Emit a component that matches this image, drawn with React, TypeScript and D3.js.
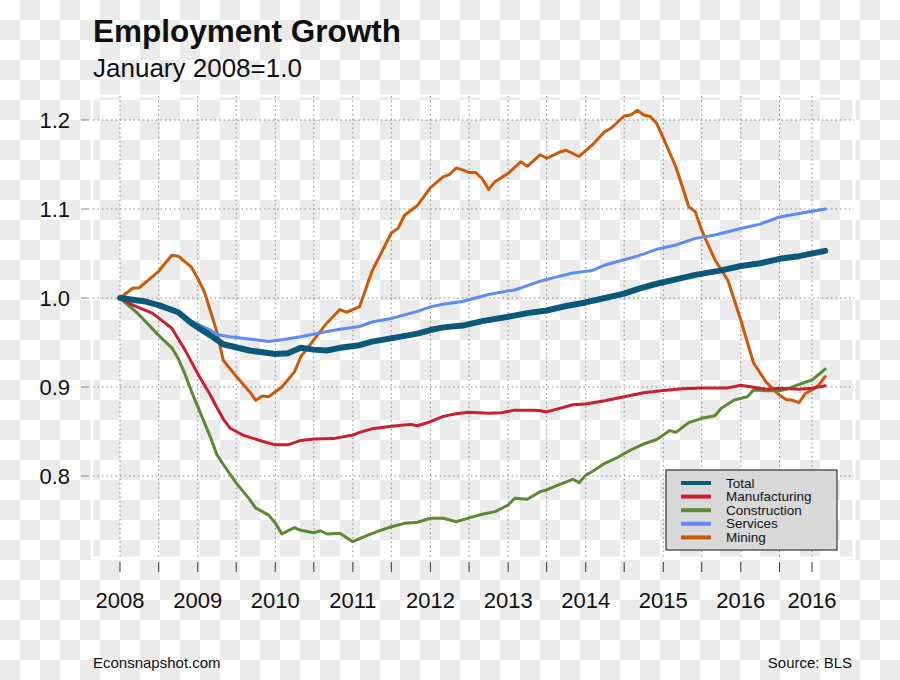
import React from "react";
import * as d3 from "d3";

// ---- Data (months as YYYY-MM, index Jan 2008 = 1.0) ----
const totalData: [string, number][] = [
  ["2008-01", 1.0], ["2008-05", 0.996], ["2008-07", 0.992], ["2008-10", 0.984], ["2008-12", 0.972],
  ["2009-03", 0.958], ["2009-05", 0.948], ["2009-09", 0.941], ["2010-01", 0.937], ["2010-03", 0.938],
  ["2010-05", 0.944], ["2010-07", 0.942], ["2010-09", 0.941], ["2010-11", 0.944], ["2011-02", 0.947],
  ["2011-04", 0.951], ["2011-08", 0.956], ["2011-11", 0.96], ["2012-01", 0.964], ["2012-03", 0.967],
  ["2012-06", 0.969], ["2012-09", 0.974], ["2013-01", 0.979], ["2013-04", 0.983], ["2013-07", 0.986],
  ["2013-10", 0.991], ["2014-01", 0.995], ["2014-04", 1.0], ["2014-07", 1.005], ["2014-09", 1.01],
  ["2014-12", 1.016], ["2015-03", 1.021], ["2015-06", 1.026], ["2015-10", 1.031], ["2016-01", 1.036],
  ["2016-04", 1.039], ["2016-07", 1.044], ["2016-10", 1.047], ["2017-02", 1.053],
];

const manufacturingData: [string, number][] = [
  ["2008-01", 1.0], ["2008-03", 0.992], ["2008-06", 0.983], ["2008-09", 0.966], ["2008-11", 0.942],
  ["2009-01", 0.915], ["2009-03", 0.891], ["2009-04", 0.877], ["2009-05", 0.864], ["2009-06", 0.854],
  ["2009-08", 0.846], ["2009-11", 0.839], ["2010-01", 0.835], ["2010-03", 0.835], ["2010-05", 0.84],
  ["2010-07", 0.8416], ["2010-10", 0.842], ["2011-01", 0.846], ["2011-02", 0.849], ["2011-04", 0.853],
  ["2011-07", 0.856], ["2011-10", 0.858], ["2011-11", 0.8565], ["2012-01", 0.861], ["2012-03", 0.867],
  ["2012-05", 0.87], ["2012-07", 0.8716], ["2012-10", 0.8705], ["2012-12", 0.871], ["2013-02", 0.874],
  ["2013-05", 0.874], ["2013-06", 0.8734], ["2013-07", 0.872], ["2013-09", 0.876], ["2013-11", 0.88],
  ["2014-01", 0.881], ["2014-04", 0.8846], ["2014-07", 0.889], ["2014-10", 0.8936], ["2015-01", 0.896],
  ["2015-04", 0.898], ["2015-07", 0.899], ["2015-11", 0.899], ["2016-01", 0.902], ["2016-03", 0.8997],
  ["2016-05", 0.8974], ["2016-07", 0.8985], ["2016-10", 0.8974], ["2016-12", 0.8985], ["2017-02", 0.9015],
];

const constructionData: [string, number][] = [
  ["2008-01", 1.0], ["2008-04", 0.981], ["2008-07", 0.958], ["2008-09", 0.944], ["2008-10", 0.932],
  ["2008-11", 0.915], ["2008-12", 0.896], ["2009-01", 0.878], ["2009-03", 0.844], ["2009-04", 0.824],
  ["2009-05", 0.813], ["2009-07", 0.792], ["2009-09", 0.774], ["2009-10", 0.764], ["2009-12", 0.756],
  ["2010-01", 0.747], ["2010-02", 0.735], ["2010-04", 0.742], ["2010-05", 0.739], ["2010-07", 0.7363],
  ["2010-08", 0.7385], ["2010-09", 0.7348], ["2010-11", 0.7356], ["2011-01", 0.7262], ["2011-03", 0.7325],
  ["2011-05", 0.738], ["2011-07", 0.743], ["2011-09", 0.7468], ["2011-11", 0.748], ["2012-01", 0.7525],
  ["2012-03", 0.7525], ["2012-05", 0.7486], ["2012-07", 0.753], ["2012-09", 0.757], ["2012-11", 0.76],
  ["2013-01", 0.7674], ["2013-02", 0.775], ["2013-04", 0.7738], ["2013-06", 0.7824], ["2013-07", 0.7843],
  ["2013-09", 0.7907], ["2013-11", 0.7963], ["2013-12", 0.7925], ["2014-01", 0.801], ["2014-02", 0.805],
  ["2014-04", 0.8143], ["2014-06", 0.821], ["2014-08", 0.8292], ["2014-10", 0.836], ["2014-12", 0.841],
  ["2015-02", 0.851], ["2015-03", 0.849], ["2015-05", 0.86], ["2015-07", 0.8648], ["2015-09", 0.8678],
  ["2015-10", 0.876], ["2015-12", 0.8854], ["2016-02", 0.889], ["2016-03", 0.8966], ["2016-05", 0.8958],
  ["2016-07", 0.8958], ["2016-08", 0.8974], ["2016-10", 0.903], ["2016-12", 0.9079], ["2017-02", 0.92],
];

const servicesData: [string, number][] = [
  ["2008-01", 1.0], ["2008-05", 0.997], ["2008-07", 0.993], ["2008-10", 0.985], ["2008-12", 0.974],
  ["2009-03", 0.964], ["2009-04", 0.959], ["2009-06", 0.9565], ["2009-09", 0.954], ["2009-12", 0.951],
  ["2010-02", 0.953], ["2010-05", 0.9565], ["2010-08", 0.961], ["2010-11", 0.965], ["2011-02", 0.968],
  ["2011-04", 0.973], ["2011-07", 0.977], ["2011-09", 0.981], ["2011-11", 0.985], ["2012-01", 0.99],
  ["2012-03", 0.993], ["2012-06", 0.996], ["2012-08", 1.0], ["2012-10", 1.004], ["2013-01", 1.008],
  ["2013-02", 1.009], ["2013-06", 1.019], ["2013-11", 1.028], ["2014-02", 1.031], ["2014-04", 1.037],
  ["2014-06", 1.041], ["2014-09", 1.047], ["2014-12", 1.0547], ["2015-03", 1.0596], ["2015-06", 1.067],
  ["2015-09", 1.0708], ["2016-01", 1.078], ["2016-04", 1.083], ["2016-07", 1.091], ["2016-10", 1.095],
  ["2017-02", 1.1],
];

const miningData: [string, number][] = [
  ["2008-01", 1.0], ["2008-03", 1.011], ["2008-04", 1.0116], ["2008-07", 1.03], ["2008-09", 1.048],
  ["2008-10", 1.047], ["2008-12", 1.035], ["2009-01", 1.022], ["2009-02", 1.007], ["2009-03", 0.986],
  ["2009-04", 0.962], ["2009-05", 0.93], ["2009-07", 0.912], ["2009-09", 0.895], ["2009-10", 0.885],
  ["2009-11", 0.89], ["2009-12", 0.889], ["2010-02", 0.9], ["2010-04", 0.917], ["2010-05", 0.934],
  ["2010-07", 0.953], ["2010-09", 0.972], ["2010-11", 0.987], ["2010-12", 0.984], ["2011-02", 0.99],
  ["2011-04", 1.03], ["2011-07", 1.073], ["2011-08", 1.078], ["2011-09", 1.093], ["2011-11", 1.104],
  ["2012-01", 1.124], ["2012-03", 1.136], ["2012-04", 1.139], ["2012-05", 1.146], ["2012-06", 1.144],
  ["2012-07", 1.141], ["2012-08", 1.141], ["2012-09", 1.134], ["2012-10", 1.122], ["2012-11", 1.131],
  ["2013-01", 1.14], ["2013-03", 1.153], ["2013-04", 1.148], ["2013-06", 1.161], ["2013-07", 1.157],
  ["2013-09", 1.164], ["2013-10", 1.166], ["2013-12", 1.159], ["2014-02", 1.172], ["2014-04", 1.187],
  ["2014-05", 1.191], ["2014-07", 1.2045], ["2014-08", 1.2056], ["2014-09", 1.211], ["2014-10", 1.2056],
  ["2014-11", 1.204], ["2014-12", 1.196], ["2015-01", 1.18], ["2015-03", 1.1475], ["2015-04", 1.125],
  ["2015-05", 1.1026], ["2015-06", 1.097], ["2015-07", 1.076], ["2015-09", 1.043], ["2015-11", 1.02],
  ["2015-12", 0.998], ["2016-01", 0.975], ["2016-03", 0.927], ["2016-05", 0.905], ["2016-06", 0.8974],
  ["2016-07", 0.891], ["2016-08", 0.886], ["2016-09", 0.885], ["2016-10", 0.8824], ["2016-11", 0.893],
  ["2016-12", 0.8966], ["2017-01", 0.902], ["2017-02", 0.9116],
];

const seriesNames = ["Total", "Manufacturing", "Construction", "Services", "Mining"];
const seriesData = [totalData, manufacturingData, constructionData, servicesData, miningData];

const xTickDates = [
  "2008-01", "2008-07", "2009-01", "2009-07", "2010-01", "2010-07", "2011-01", "2011-07",
  "2012-01", "2012-07", "2013-01", "2013-07", "2014-01", "2014-07", "2015-01", "2015-07",
  "2016-01", "2016-07", "2016-12",
];
const xLabelDates = [
  "2008-01", "2009-01", "2010-01", "2011-01", "2012-01", "2013-01", "2014-01", "2015-01", "2016-01", "2016-12",
];
const xLabels = ["2008", "2009", "2010", "2011", "2012", "2013", "2014", "2015", "2016", "2016"];
const yTicks = [0.8, 0.9, 1.0, 1.1, 1.2];
const yTickLabels = ["0.8", "0.9", "1.0", "1.1", "1.2"];

// ---- Styles ----
const colors = ["#0b5878", "#c8202f", "#5a8a32", "#5b8ef0", "#cc5a08"];
const widths = [6, 3, 3, 3, 3];
const FONT = "'Liberation Sans', Arial, Helvetica, sans-serif";

const W = 900;
const H = 680;

export default function App() {
  const parse = d3.timeParse("%Y-%m");
  const x = d3
    .scaleTime()
    .domain([parse("2008-01") as Date, parse("2016-12") as Date])
    .range([120, 812]);
  const y = d3.scaleLinear().domain([0.8, 1.2]).range([476, 120]);

  const panel = { x0: 93, x1: 854, y0: 96, y1: 558 };

  const line = d3
    .line<[string, number]>()
    .x((d) => x(parse(d[0]) as Date))
    .y((d) => y(d[1]))
    .curve(d3.curveLinear);

  const drawOrder = [4, 3, 2, 1, 0];

  const legend = { x: 666, y: 470, w: 171, h: 80 };

  return (
    <svg
      width={W}
      height={H}
      viewBox={`0 0 ${W} ${H}`}
      style={{ position: "absolute", left: 0, top: 0, display: "block" }}
      fontFamily={FONT}
    >
      <defs>
        <pattern id="checker" width={40} height={40} patternUnits="userSpaceOnUse">
          <rect x={0} y={0} width={40} height={40} fill="#ffffff" />
          <rect x={20} y={0} width={20} height={20} fill="#ebebeb" />
          <rect x={0} y={20} width={20} height={20} fill="#ebebeb" />
        </pattern>
      </defs>
      <rect x={0} y={0} width={W} height={H} fill="url(#checker)" />

      {/* Title */}
      <text x={93} y={42} fontSize={31.5} fontWeight="bold" fill="#111">
        Employment Growth
      </text>
      <text x={93} y={77} fontSize={26} fill="#111">
        January 2008=1.0
      </text>

      {/* panel border */}
      <rect
        x={panel.x0 - 1}
        y={panel.y0}
        width={panel.x1 - panel.x0 + 1}
        height={panel.y1 - panel.y0}
        fill="none"
        stroke="#ffffff"
        strokeWidth={3}
      />

      {/* Grid */}
      {xTickDates.map((d) => {
        const xx = x(parse(d) as Date);
        return (
          <line
            key={"gx" + d}
            x1={xx}
            x2={xx}
            y1={panel.y0}
            y2={panel.y1}
            stroke="#8a8a8a"
            strokeWidth={1}
            strokeDasharray="1.5,3"
          />
        );
      })}
      {yTicks.map((v) => (
        <line
          key={"gy" + v}
          x1={panel.x0}
          x2={panel.x1}
          y1={y(v)}
          y2={y(v)}
          stroke="#8a8a8a"
          strokeWidth={1}
          strokeDasharray="1.5,3"
        />
      ))}

      {/* Y axis */}
      {yTicks.map((v, i) => (
        <g key={"yt" + v}>
          <line x1={81} x2={89} y1={y(v)} y2={y(v)} stroke="#888" strokeWidth={1} />
          <text x={70} y={y(v)} dy="0.36em" textAnchor="end" fontSize={22} fill="#111">
            {yTickLabels[i]}
          </text>
        </g>
      ))}

      {/* X axis */}
      {xTickDates.map((d) => {
        const xx = x(parse(d) as Date);
        return <line key={"xt" + d} x1={xx} x2={xx} y1={562} y2={572} stroke="#333" strokeWidth={1} />;
      })}
      {xLabelDates.map((d, i) => (
        <text
          key={"xl" + i}
          x={x(parse(d) as Date)}
          y={608}
          textAnchor="middle"
          fontSize={22}
          fill="#111"
        >
          {xLabels[i]}
        </text>
      ))}

      {/* Lines */}
      {drawOrder.map((i) => (
        <path
          key={"s" + i}
          d={line(seriesData[i]) || ""}
          fill="none"
          stroke={colors[i]}
          strokeWidth={widths[i]}
          strokeLinejoin="round"
          strokeLinecap="round"
        />
      ))}

      {/* Legend */}
      <rect
        x={legend.x}
        y={legend.y}
        width={legend.w}
        height={legend.h}
        fill="#d9d9d9"
        stroke="#333"
        strokeWidth={1.2}
      />
      {seriesNames.map((n, i) => {
        const yy = legend.y + 13 + i * 13.6;
        return (
          <g key={"lg" + n}>
            <line x1={681} x2={711} y1={yy} y2={yy} stroke={colors[i]} strokeWidth={4} />
            <text x={726} y={yy} dy="0.34em" fontSize={13.5} fill="#111">
              {n}
            </text>
          </g>
        );
      })}

      {/* Footer */}
      <text x={93} y={668} fontSize={15} fill="#111">
        Econsnapshot.com
      </text>
      <text x={852} y={668} fontSize={15} textAnchor="end" fill="#111">
        Source: BLS
      </text>
    </svg>
  );
}
